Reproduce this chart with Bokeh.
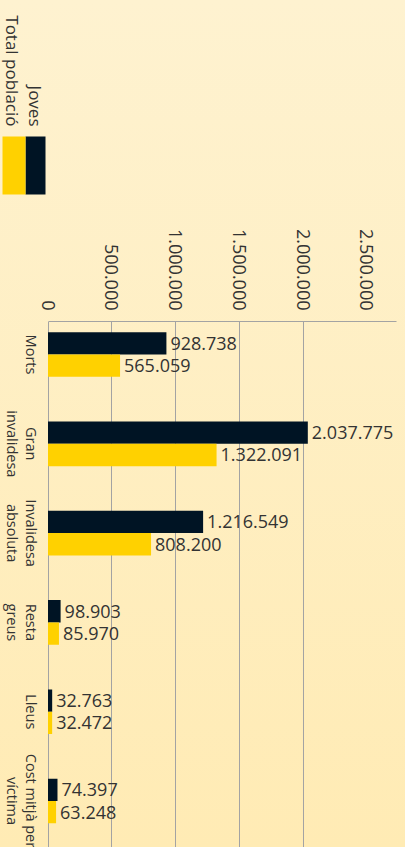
import math
from bokeh.plotting import figure
from bokeh.models import ColumnDataSource, Range1d, FixedTicker, LabelSet
from bokeh.transform import dodge
from bokeh.layouts import column
from bokeh.core.properties import value
from bokeh.embed import file_html
from bokeh.resources import INLINE

# ---- data ----
categories = ["Morts", "Gran\ninvalidesa", "Invalidesa\nabsoluta", "Resta\ngreus", "Lleus",
              "Cost mitjà per\nvíctima"]
joves = [928738, 2037775, 1216549, 98903, 32763, 74397]
total = [565059, 1322091, 808200, 85970, 32472, 63248]
joves_labels = ["928.738", "2.037.775", "1.216.549", "98.903", "32.763", "74.397"]
total_labels = ["565.059", "1.322.091", "808.200", "85.970", "32.472", "63.248"]
series_names = ["Joves", "Total població"]
tick_values = [0, 500000, 1000000, 1500000, 2000000, 2500000]
tick_labels = ["0", "500.000", "1.000.000", "1.500.000", "2.000.000", "2.500.000"]
grid_values = [0, 500000, 1000000, 1500000, 2000000]
axis_max = 2730000

NAVY = "#001424"
YELLOW = "#FFD100"
TEXT = "#333333"
GRID = "#A3A3A3"
FONT = "Open Sans"

W = 405
LEG_H = 200
MAIN_H = 647
TOP_BORDER = 121          # frame top at y = 321 on the page
ZERO_PX = 47.5            # where value 0 sits horizontally
PX_PER_UNIT = 127.5e-6    # pixels per value unit
SLOT_PX = 89.3            # pixels per category
FIRST_CENTER = 354 - (LEG_H + TOP_BORDER)   # first category centre, px below frame top

# ---- legend (rotated), drawn in its own small figure in pixel units ----
leg = figure(width=W, height=LEG_H, x_range=Range1d(0, W), y_range=Range1d(0, LEG_H),
             toolbar_location=None, output_backend="svg", min_border=0,
             x_axis_location=None, y_axis_location=None)
leg.grid.visible = False
leg.outline_line_color = None
leg.background_fill_color = None
leg.border_fill_color = None
leg.quad(left=[25, 2], right=[45, 25], top=[LEG_H - 136] * 2, bottom=[LEG_H - 194] * 2,
         color=[NAVY, YELLOW], line_color=None)
leg.text(x=[35, 12], y=[LEG_H - 126] * 2, text=series_names, angle=-math.pi / 2,
         text_align="right", text_baseline="alphabetic",
         text_font=value(FONT), text_font_size="17px", text_color=TEXT)

# ---- main chart ----
n = len(categories)
ypos = [n - 1 - i for i in range(n)]           # first category on top
frame_h = MAIN_H - TOP_BORDER
y_top = (n - 1) + FIRST_CENTER / SLOT_PX
y_bot = y_top - frame_h / SLOT_PX
x_start = -ZERO_PX / PX_PER_UNIT
x_end = (W - ZERO_PX) / PX_PER_UNIT

p = figure(width=W, height=MAIN_H, x_range=Range1d(x_start, x_end), y_range=Range1d(y_bot, y_top),
           x_axis_location="above", y_axis_location=None,
           toolbar_location=None, output_backend="svg",
           min_border_left=0, min_border_right=0, min_border_top=TOP_BORDER, min_border_bottom=0)
p.outline_line_color = None
p.background_fill_color = None
p.border_fill_color = None

ax = p.xaxis[0]
ax.ticker = FixedTicker(ticks=tick_values)
ax.bounds = (0, axis_max)
ax.major_label_overrides = dict(zip(tick_values, tick_labels))
ax.major_label_orientation = -math.pi / 2
ax.major_label_text_font = FONT
ax.major_label_text_font_size = "18px"
ax.major_label_text_color = TEXT
ax.major_tick_line_color = None
ax.minor_tick_line_color = None
ax.axis_line_color = GRID
ax.major_label_standoff = 5

p.xgrid.ticker = FixedTicker(ticks=grid_values)
p.xgrid.grid_line_color = GRID
p.ygrid.visible = False

src = ColumnDataSource(dict(cat=categories, pos=ypos, joves=joves, total=total,
                            jl=joves_labels, tl=total_labels))

p.hbar(y=dodge("pos", 0.125), left=0, right="joves", height=0.25,
       color=NAVY, line_color=None, source=src)
p.hbar(y=dodge("pos", -0.125), left=0, right="total", height=0.25,
       color=YELLOW, line_color=None, source=src)

p.add_layout(LabelSet(x="joves", y=dodge("pos", 0.125), text="jl", source=src,
                      x_offset=4, text_baseline="middle", text_font=value(FONT),
                      text_font_size="18px", text_color=TEXT))
p.add_layout(LabelSet(x="total", y=dodge("pos", -0.125), text="tl", source=src,
                      x_offset=4, text_baseline="middle", text_font=value(FONT),
                      text_font_size="18px", text_color=TEXT))
p.text(x=0, y="pos", text="cat", source=src, x_offset=-7,
       angle=-math.pi / 2, text_align="center", text_baseline="top", text_line_height=1.0,
       text_font=value(FONT), text_font_size="14.5px", text_color=TEXT)

layout = column(leg, p, styles={"background": "linear-gradient(180deg, #FEF2D0 0%, #FFEBB4 100%)"})

open("out.html", "w").write(file_html(layout, INLINE))
